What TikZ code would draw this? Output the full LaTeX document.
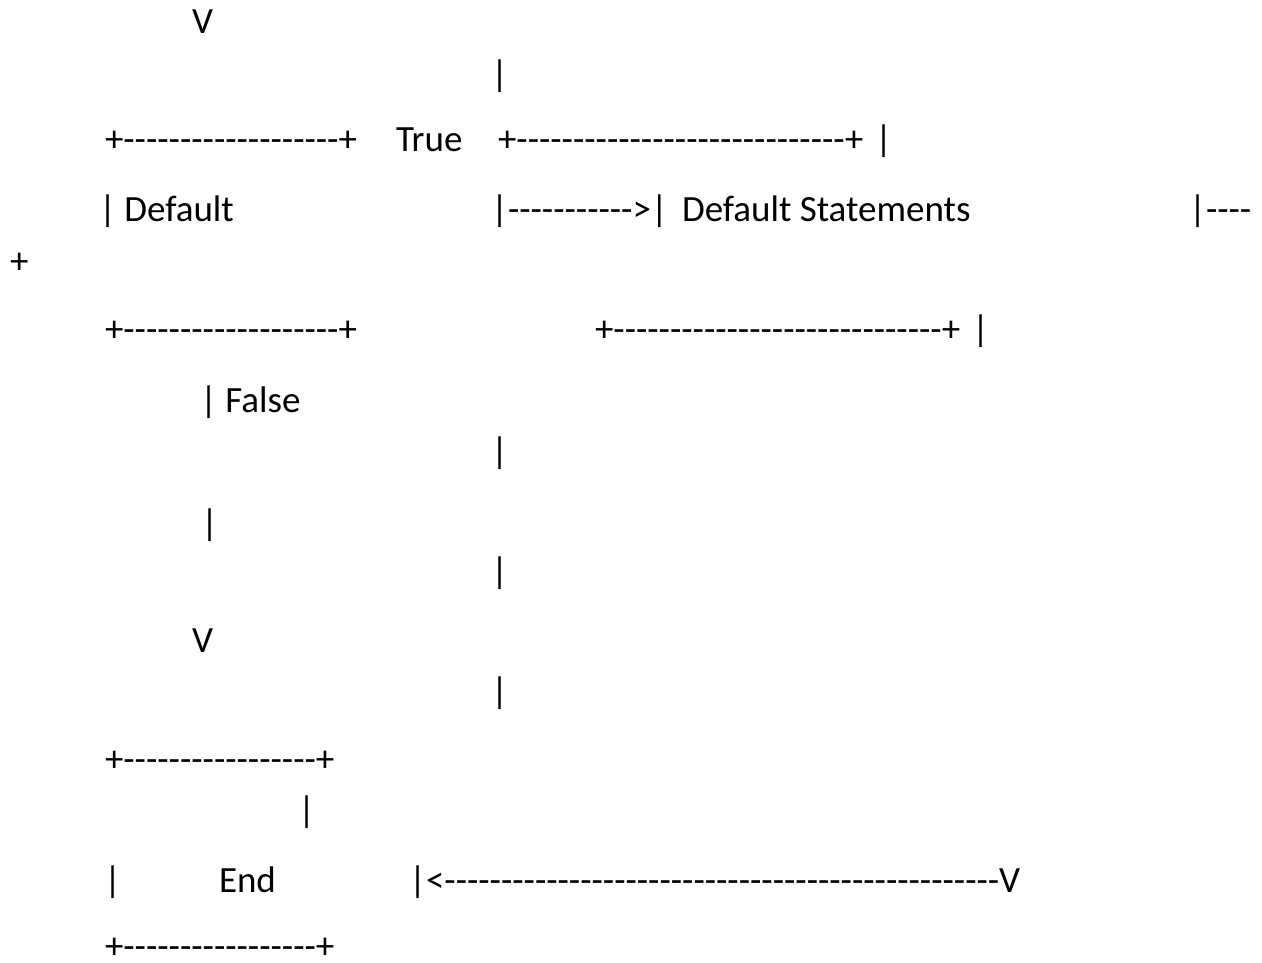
\documentclass[tikz,border=0pt]{standalone}
\usepackage{fontspec}
\newfontfamily\asciifont{Carlito}[Ligatures=TeXOff]
\usetikzlibrary{positioning}

\begin{document}
\begin{tikzpicture}[
    x=1pt, y=-1pt,
    txt/.style={anchor=base west, inner sep=0pt, outer sep=0pt, text depth=0pt,
        font=\asciifont\fontsize{37}{44}\selectfont}
]
\useasboundingbox (0,0) rectangle (1262,963);

% Top of the flow.
\node[txt] (v1) at (192,34) {V};
\node[txt] (bar1) at (491,87) {|};

% Default box row.
\node[txt] (boxtop) at (105,152) {+-------------------+};
\node[txt] (truelbl) at (396,152) {True};
\node[txt] (stmtop) at (498,152) {+-----------------------------+};
\node[txt] (bar2) at (875,152) {|};
\node[txt] (dflt) at (99,222) {| Default};
\node[txt] (truearr) at (491,222) {|----------->|};
\node[txt] (stmt) at (682,222) {Default Statements};
\node[txt] (stmout) at (1189,222) {|----};
\node[txt] (plus) at (10,273) {+};
\node[txt] (boxbot) at (105,341) {+-------------------+};
\node[txt] (stmbot) at (595,341) {+-----------------------------+};
\node[txt] (bar3) at (972,341) {|};

% False branch.
\node[txt] (falselbl) at (200,412) {| False};
\node[txt] (bar4) at (491,463) {|};
\node[txt] (bar5) at (201,535) {|};
\node[txt] (bar6) at (491,583) {|};
\node[txt] (v2) at (192,652) {V};
\node[txt] (bar7) at (491,703) {|};

% End box.
\node[txt] (endtop) at (105,771) {+-----------------+};
\node[txt] (bar8) at (298,822) {|};
\node[txt] (endl) at (104,892) {|};
\node[txt] (endlbl) at (219,892) {End};
\node[txt] (endarr) at (409,892) {|<-------------------------------------------------V};
\node[txt] (endbot) at (105,958) {+-----------------+};
\end{tikzpicture}
\end{document}
